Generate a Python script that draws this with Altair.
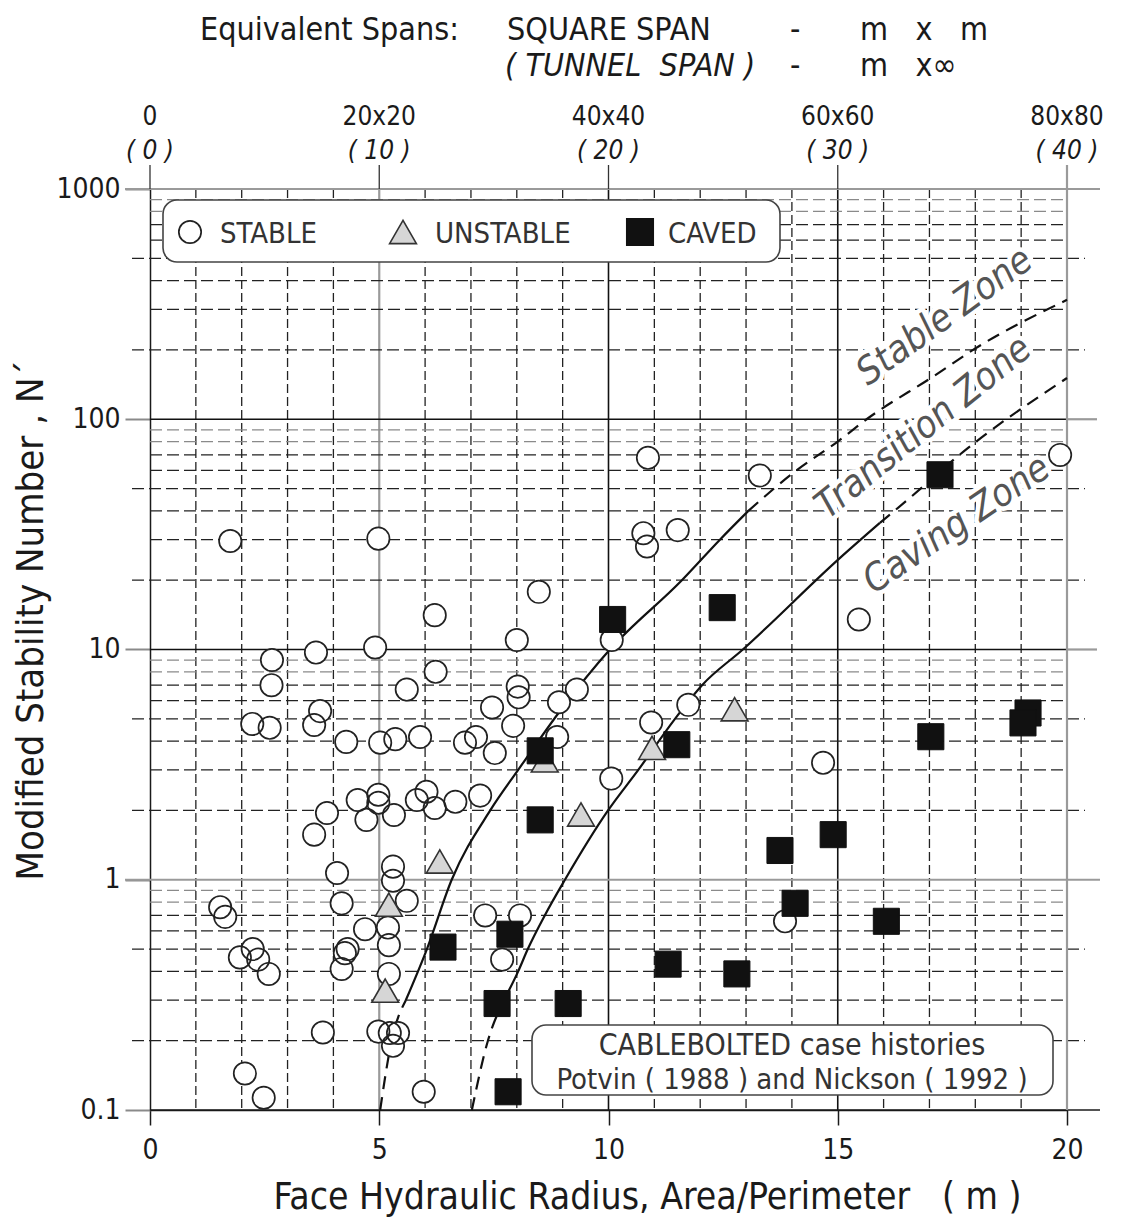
import altair as alt
import pandas as pd

FONT = "'Liberation Sans Narrow', 'DejaVu Sans Condensed', Roboto, sans-serif"
INK = "#1a1a1a"
NB = "\u00a0"

# ---- case histories: face hydraulic radius (m) and modified stability number N' ----
stable_hr = [1.75, 4.98, 10.86, 13.30, 19.85, 10.76, 10.84, 11.51, 8.48, 6.21,
             15.46, 8.00, 10.07, 4.91, 3.62, 2.66, 2.65, 6.23, 5.60, 8.02,
             8.04, 9.31, 7.46, 8.92, 3.71, 3.58, 2.23, 2.61, 7.92, 4.28,
             5.02, 5.35, 5.89, 6.87, 7.11, 7.52, 8.88, 11.74, 10.93, 14.68,
             10.06, 3.86, 3.58, 4.53, 4.72, 4.98, 4.98, 5.32, 5.82, 6.03,
             6.21, 6.66, 7.20, 4.08, 5.30, 5.30, 1.53, 1.64, 4.18, 5.60,
             4.69, 5.19, 5.21, 2.24, 1.96, 2.36, 2.59, 4.31, 4.25, 4.18,
             5.21, 3.77, 4.98, 5.23, 5.41, 5.30, 2.07, 2.48, 5.97, 7.31,
             8.07, 7.68, 13.85]
stable_n = [29.6, 30.3, 68, 57, 70, 32, 28, 33, 17.8, 14.1,
            13.5, 11.0, 11.0, 10.2, 9.7, 9.0, 7.0, 8.0, 6.7, 6.9,
            6.2, 6.7, 5.6, 5.9, 5.4, 4.7, 4.75, 4.57, 4.66, 3.97,
            3.94, 4.08, 4.17, 3.94, 4.17, 3.55, 4.17, 5.75, 4.82, 3.22,
            2.75, 1.95, 1.57, 2.22, 1.82, 2.34, 2.16, 1.91, 2.22, 2.41,
            2.05, 2.18, 2.32, 1.07, 1.14, 0.99, 0.76, 0.69, 0.79, 0.81,
            0.61, 0.62, 0.52, 0.50, 0.46, 0.45, 0.39, 0.50, 0.48, 0.41,
            0.39, 0.217, 0.219, 0.216, 0.216, 0.19, 0.144, 0.113, 0.12, 0.70,
            0.70, 0.45, 0.66]

unstable_hr = [6.32, 5.21, 5.13, 9.40, 8.61, 10.95, 12.75]
unstable_n = [1.2, 0.78, 0.33, 1.92, 3.3, 3.74, 5.5]

caved_hr = [10.09, 12.48, 17.23, 8.51, 8.51, 11.49, 17.03, 19.15, 19.04, 13.74,
            14.90, 14.07, 16.06, 6.39, 7.85, 7.57, 9.12, 11.30, 12.80, 7.81]
caved_n = [13.5, 15.2, 57.4, 3.63, 1.82, 3.86, 4.18, 5.3, 4.8, 1.34,
           1.57, 0.79, 0.66, 0.51, 0.58, 0.29, 0.29, 0.43, 0.39, 0.12]

# ---- zone boundaries: (hydraulic radius, N') along each curve ----
stable_edge_low_hr = [5.02, 5.27, 5.58]
stable_edge_low_n = [0.1, 0.2, 0.3]
stable_edge_hr = [5.58, 6.04, 6.58, 7.42, 8.03, 9.0, 10.03, 11.6, 12.43, 13.05]
stable_edge_n = [0.3, 0.5, 1.0, 2.0, 3.0, 5.6, 10, 20, 30, 40]
stable_edge_high_hr = [13.05, 14.1, 15.0, 15.63, 17.12, 17.95, 20.0]
stable_edge_high_n = [40, 60, 80, 100, 155, 200, 330]

caving_edge_low_hr = [7.02, 7.37, 7.72]
caving_edge_low_n = [0.1, 0.2, 0.3]
caving_edge_hr = [7.72, 8.03, 8.24, 8.61, 9.05, 9.99, 10.65, 11.45, 12.04, 12.93, 15.05, 15.92]
caving_edge_n = [0.3, 0.4, 0.5, 0.7, 1.0, 2.0, 3.0, 5.0, 7.0, 10, 25, 35.5]
caving_edge_high_hr = [15.92, 16.86, 17.38, 20.0]
caving_edge_high_n = [35.5, 51, 63, 151]

# ---- axis furniture ----
hr_ticks = [0, 5, 10, 15, 20]
square_spans = ["0", "20x20", "40x40", "60x60", "80x80"]
tunnel_spans = ["( 0 )", "( 10 )", "( 20 )", "( 30 )", "( 40 )"]
n_ticks = [0.1, 1, 10, 100, 1000]
v_grid_dashed = [1, 2, 3, 4, 6, 7, 8, 9, 11, 12, 13, 14, 16, 17, 18, 19]
v_grid_black = [10, 15]
v_grid_grey = [5]
minor_steps_dark = [3, 4, 6, 7]
minor_steps_long = [2, 5]
minor_steps_grey = [8, 9]

W, H = 917, 921

xs = alt.Scale(domain=[0, 20], nice=False, zero=False)
ys = alt.Scale(type="log", domain=[0.1, 1000], nice=False)

x_axis = alt.Axis(
    orient="bottom", values=hr_ticks, format="d", grid=False,
    labelFont=FONT, labelFontSize=28, labelColor=INK, labelPadding=11,
    labelFlush=False, tickSize=15, tickColor=INK, tickWidth=1.5,
    domainColor=INK, domainWidth=1.5,
    title=f"Face Hydraulic Radius, Area/Perimeter{NB}{NB}{NB}({NB}m{NB})",
    titleFont=FONT, titleFontSize=37, titleFontWeight="normal",
    titleColor=INK, titleX=497, titleY=98, titleAlign="center",
    titleBaseline="alphabetic",
)
y_axis = alt.Axis(
    orient="left", values=n_ticks, grid=False,
    labelExpr="datum.value < 1 ? '0.1' : format(datum.value, 'd')",
    labelFont=FONT, labelFontSize=28, labelColor=INK, labelPadding=5,
    labelFlush=False, labelOverlap=False,
    tickSize=25, tickColor="#8a8a8a", tickWidth=2,
    domainColor=INK, domainWidth=1.5,
    title=f"Modified Stability Number{NB},{NB}N\u00b4",
    titleFont=FONT, titleFontSize=38, titleFontWeight="normal",
    titleColor=INK, titleX=-108, titleY=431, titleAngle=270,
    titleAlign="center", titleBaseline="alphabetic",
)

X = alt.X("hr:Q", scale=xs, axis=x_axis)
Y = alt.Y("n:Q", scale=ys, axis=y_axis)

one = pd.DataFrame({"k": [0]})


def minor(steps):
    return [s * 10.0 ** k for k in range(-1, 3) for s in steps]


def vrules(vals, **kw):
    return alt.Chart(pd.DataFrame({"hr": vals})).mark_rule(**kw).encode(
        x=X, y=alt.value(0), y2=alt.value(H))


def hrules(vals, x0, x1, **kw):
    return alt.Chart(pd.DataFrame({"n": vals})).mark_rule(**kw).encode(
        y=Y, x=alt.value(x0), x2=alt.value(x1))


def note(text, x, y, size=28, align="left", style="normal", color=INK):
    return alt.Chart(one).mark_text(
        text=text, font=FONT, fontSize=size, align=align, baseline="alphabetic",
        fontStyle=style, color=color).encode(x=alt.value(x), y=alt.value(y))


def curve(hr, n, dashed):
    kw = dict(color="#111", strokeWidth=2.2, interpolate="monotone")
    if dashed:
        kw["strokeDash"] = [13, 8]
    return alt.Chart(pd.DataFrame({"hr": hr, "n": n})).mark_line(**kw).encode(x=X, y=Y)


# gridwork
grid = [
    vrules(v_grid_dashed, color="#222", strokeWidth=1.3, strokeDash=[9, 4]),
    vrules(v_grid_grey, color="#9a9a9a", strokeWidth=2.2),
    vrules(v_grid_black, color="#111", strokeWidth=1.6),
    hrules(minor(minor_steps_dark), 0, W, color="#222", strokeWidth=1.3, strokeDash=[12, 5]),
    hrules(minor(minor_steps_long), -18, W + 18, color="#222", strokeWidth=1.3, strokeDash=[12, 5]),
    hrules(minor(minor_steps_grey), 0, W, color="#8a8a8a", strokeWidth=1.3, strokeDash=[12, 5]),
    hrules([1, 1000], -25, W + 33, color="#9a9a9a", strokeWidth=2.2),
    hrules([10, 100], W, W + 30, color="#9a9a9a", strokeWidth=2.2),
    hrules([10, 100], 0, W, color="#111", strokeWidth=1.6),
    hrules([0.1], 0, W + 33, color=INK, strokeWidth=1.6),
    alt.Chart(pd.DataFrame({"hr": [20]})).mark_rule(color="#9a9a9a", strokeWidth=2.2).encode(
        x=X, y=alt.value(-24), y2=alt.value(H)),
    alt.Chart(pd.DataFrame({"hr": hr_ticks[:-1]})).mark_rule(color="#333", strokeWidth=1.3).encode(
        x=X, y=alt.value(-24), y2=alt.value(0)),
]

# framed boxes: legend and source note
legend_box = alt.Chart(one).mark_rect(
    fill="white", stroke="#444", strokeWidth=1.6, cornerRadius=14).encode(
    x=alt.value(13), x2=alt.value(630), y=alt.value(11), y2=alt.value(73))
note_box = alt.Chart(one).mark_rect(
    fill="white", stroke="#444", strokeWidth=1.6, cornerRadius=14).encode(
    x=alt.value(382), x2=alt.value(903), y=alt.value(836), y2=alt.value(906))

curves = [
    curve(stable_edge_low_hr, stable_edge_low_n, True),
    curve(stable_edge_hr, stable_edge_n, False),
    curve(stable_edge_high_hr, stable_edge_high_n, True),
    curve(caving_edge_low_hr, caving_edge_low_n, True),
    curve(caving_edge_hr, caving_edge_n, False),
    curve(caving_edge_high_hr, caving_edge_high_n, True),
]

# zone names with a white halo that clears the grid beneath
zones = pd.DataFrame({
    "hr": [17.34, 16.88, 17.6],
    "n": [278, 91.6, 34.7],
    "name": ["Stable Zone", "Transition Zone", "Caving Zone"],
    "tilt": [324, 321, 326],
})
zone_halo = alt.Chart(zones).mark_text(
    font=FONT, fontSize=38, fontStyle="italic", align="center", baseline="middle",
    stroke="white", strokeWidth=9, fill="white").encode(
    x=X, y=Y, text="name:N", angle=alt.Angle("tilt:Q", scale=None))
zone_text = alt.Chart(zones).mark_text(
    font=FONT, fontSize=38, fontStyle="italic", align="center", baseline="middle",
    fill="#555").encode(
    x=X, y=Y, text="name:N", angle=alt.Angle("tilt:Q", scale=None))

stable_df = pd.DataFrame({"hr": stable_hr, "n": stable_n})
unstable_df = pd.DataFrame({"hr": unstable_hr, "n": unstable_n})
caved_df = pd.DataFrame({"hr": caved_hr, "n": caved_n})

points = [
    alt.Chart(stable_df).mark_point(shape="circle", filled=True, fill="white",
                                    size=500, opacity=1, strokeWidth=0).encode(x=X, y=Y),
    alt.Chart(stable_df).mark_point(shape="circle", filled=False, stroke="#222",
                                    size=500, opacity=1, strokeWidth=1.7).encode(x=X, y=Y),
    alt.Chart(unstable_df).mark_point(shape="triangle-up", filled=True, fill="#d6d6d6",
                                      stroke="#333", size=720, opacity=1,
                                      strokeWidth=1.6).encode(x=X, y=Y),
    alt.Chart(caved_df).mark_point(shape="square", filled=True, fill="#111", stroke="#111",
                                   size=680, opacity=1, strokeWidth=1).encode(x=X, y=Y),
]

# legend entries
legend_items = [
    alt.Chart(one).mark_point(shape="circle", filled=True, fill="white", stroke="#222",
                              strokeWidth=1.7, size=500, opacity=1).encode(
        x=alt.value(40), y=alt.value(43)),
    alt.Chart(one).mark_point(shape="triangle-up", filled=True, fill="#d6d6d6", stroke="#333",
                              strokeWidth=1.6, size=720, opacity=1).encode(
        x=alt.value(253), y=alt.value(43)),
    alt.Chart(one).mark_point(shape="square", filled=True, fill="#111", stroke="#111",
                              size=680, opacity=1).encode(x=alt.value(490), y=alt.value(43)),
    note("STABLE", 70, 54, size=29, color="#333"),
    note("UNSTABLE", 285, 54, size=29, color="#333"),
    note("CAVED", 518, 54, size=29, color="#333"),
]

# top scale: equivalent square and tunnel spans
span_df = pd.DataFrame({"hr": hr_ticks, "sq": square_spans, "tn": tunnel_spans})
spans = [
    alt.Chart(span_df).mark_text(font=FONT, fontSize=26, color=INK, align="center",
                                 baseline="alphabetic").encode(
        x=X, y=alt.value(-64), text="sq:N"),
    alt.Chart(span_df).mark_text(font=FONT, fontSize=26, color=INK, align="center",
                                 baseline="alphabetic", fontStyle="italic").encode(
        x=X, y=alt.value(-30), text="tn:N"),
    note("Equivalent Spans:", 50, -149, size=32),
    note("SQUARE SPAN", 357, -149, size=32),
    note("-", 640, -149, size=32),
    note(f"m{NB}{NB}{NB}x{NB}{NB}{NB}m", 710, -149, size=32),
    note(f"({NB}TUNNEL{NB}{NB}SPAN{NB})", 355, -113, size=32, style="italic"),
    note("-", 640, -113, size=32),
    note(f"m{NB}{NB}{NB}x\u221e", 710, -113, size=32),
]

source = [
    note("CABLEBOLTED case histories", 642, 866, size=30, align="center", color="#333"),
    note("Potvin ( 1988 ) and Nickson ( 1992 )", 642, 900,
         size=29, align="center", color="#333"),
]

chart = alt.layer(
    *grid, legend_box, note_box, zone_halo, *curves, zone_text, *points,
    *legend_items, *spans, *source,
).properties(
    width=W, height=H,
    padding={"left": 150, "top": 189, "right": 63, "bottom": 114},
    autosize=alt.AutoSizeParams(type="none"),
    background="white",
).configure_view(stroke=None)

chart.save("out.html", embed_options={"renderer": "svg", "actions": False})
